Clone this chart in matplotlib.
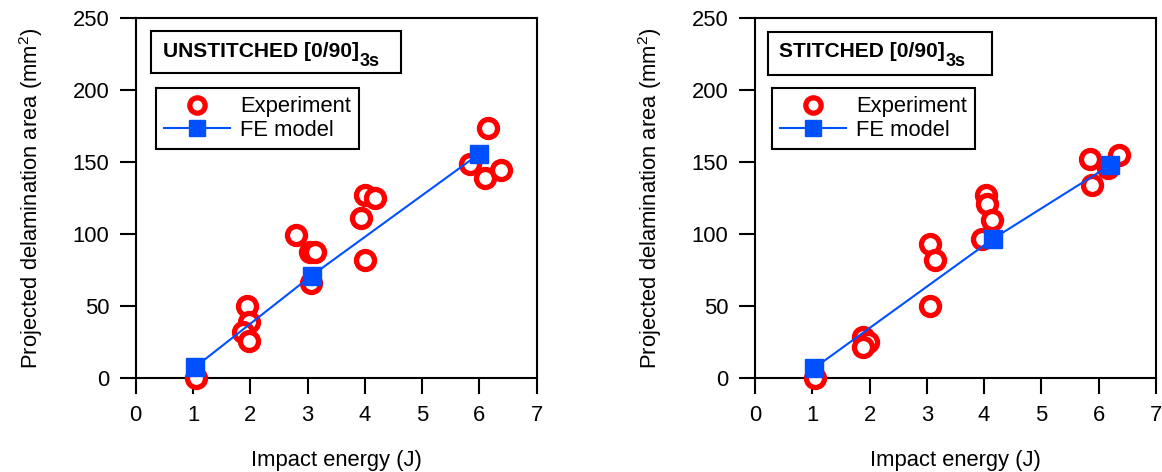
import numpy as np
import matplotlib
matplotlib.use("Agg")
import matplotlib.pyplot as plt
import matplotlib.patches as patches

plt.rcParams['font.family'] = ['Liberation Sans', 'DejaVu Sans']
plt.rcParams['mathtext.fontset'] = 'custom'
plt.rcParams['mathtext.rm'] = 'Liberation Sans'
plt.rcParams['mathtext.it'] = 'Liberation Sans:italic'
plt.rcParams['mathtext.bf'] = 'Liberation Sans:bold'

# data
unst_exp_x = [1.06, 1.94, 1.98, 1.88, 1.98, 2.80, 3.04, 3.13, 3.06,
              3.94, 4.01, 4.17, 4.01, 5.84, 6.15, 6.09, 6.38]
unst_exp_y = [0, 50, 39, 32, 26, 99.5, 88, 88, 66,
              111, 127, 125.5, 82, 149, 174, 139, 145]
unst_fe_x = [1.03, 3.07, 6.00]
unst_fe_y = [7.6, 71.3, 156]

st_exp_x = [1.05, 1.89, 1.98, 1.89, 3.05, 3.15, 3.06,
            4.04, 4.05, 4.14, 3.97, 5.84, 5.88, 6.35, 6.16]
st_exp_y = [0, 28.5, 25.5, 22, 93, 82, 50,
            127, 121, 110, 97, 152, 134, 155, 146]
st_fe_x = [1.03, 4.16, 6.20]
st_fe_y = [7, 97, 148]

titles = ['UNSTITCHED [0/90]', 'STITCHED [0/90]']
title_sub = '3s'
x_ticks = [0, 1, 2, 3, 4, 5, 6, 7]
y_ticks = [0, 50, 100, 150, 200, 250]

RED = '#ff0000'
BLUE = '#0050ff'
FS = 15.8

fig = plt.figure(figsize=(11.62, 4.72), dpi=100)
ax_l = fig.add_axes([0.1168, 0.1985, 0.3451, 0.7627])
ax_r = fig.add_axes([0.6497, 0.1985, 0.3451, 0.7627])

panels = [
    (ax_l, unst_exp_x, unst_exp_y, unst_fe_x, unst_fe_y, titles[0],
     (0.038, 0.848, 0.624, 0.117), 0.068, (0.05, 0.806)),
    (ax_r, st_exp_x, st_exp_y, st_fe_x, st_fe_y, titles[1],
     (0.032, 0.843, 0.558, 0.119), 0.060, (0.042, 0.806)),
]

for ax, ex, ey, fx, fy, title, box, tx, leg_anchor in panels:
    ax.plot(ex, ey, linestyle='none', marker='o', markersize=13,
            markerfacecolor='white', markeredgecolor=RED, markeredgewidth=3.8,
            label='Experiment', clip_on=False, zorder=3)
    ax.plot(fx, fy, color=BLUE, linewidth=1.5, marker='s', markersize=13,
            markerfacecolor=BLUE, markeredgecolor=BLUE,
            label='FE model', clip_on=False, zorder=4)

    ax.set_xlim(0, 7)
    ax.set_ylim(0, 250)
    ax.set_xticks(x_ticks)
    ax.set_yticks(y_ticks)
    ax.tick_params(direction='out', length=11.5, width=1.5, labelsize=FS,
                   pad=7.5, top=False, right=False)
    for s in ax.spines.values():
        s.set_linewidth(1.5)

    ax.set_xlabel('Impact energy (J)', fontsize=FS)
    ax.set_ylabel('Projected delamination area (mm$^2$)', fontsize=FS)
    ax.xaxis.set_label_coords(0.5, -0.198)
    ax.yaxis.set_label_coords(-0.226, 0.5)

    rect = patches.Rectangle((box[0], box[1]), box[2], box[3],
                             transform=ax.transAxes, facecolor='white',
                             edgecolor='black', linewidth=1.5, zorder=5)
    ax.add_patch(rect)
    t = ax.text(tx, 0.892, title, transform=ax.transAxes, fontsize=15.1,
                fontweight='bold', va='baseline', ha='left', zorder=6)
    ax.annotate(title_sub, xy=(1, 0), xycoords=t, xytext=(0.5, -3.5),
                textcoords='offset points', fontsize=13, fontweight='bold',
                va='baseline', ha='left', zorder=6)

    leg = ax.legend(loc='upper left', bbox_to_anchor=leg_anchor,
                    borderaxespad=0, fontsize=FS, fancybox=False,
                    edgecolor='black', framealpha=1, handlelength=3.0,
                    handletextpad=0.45, borderpad=0.38, labelspacing=0.12,
                    markerscale=0.85)
    leg.get_frame().set_linewidth(1.5)

fig.savefig('out.png', dpi=100)
